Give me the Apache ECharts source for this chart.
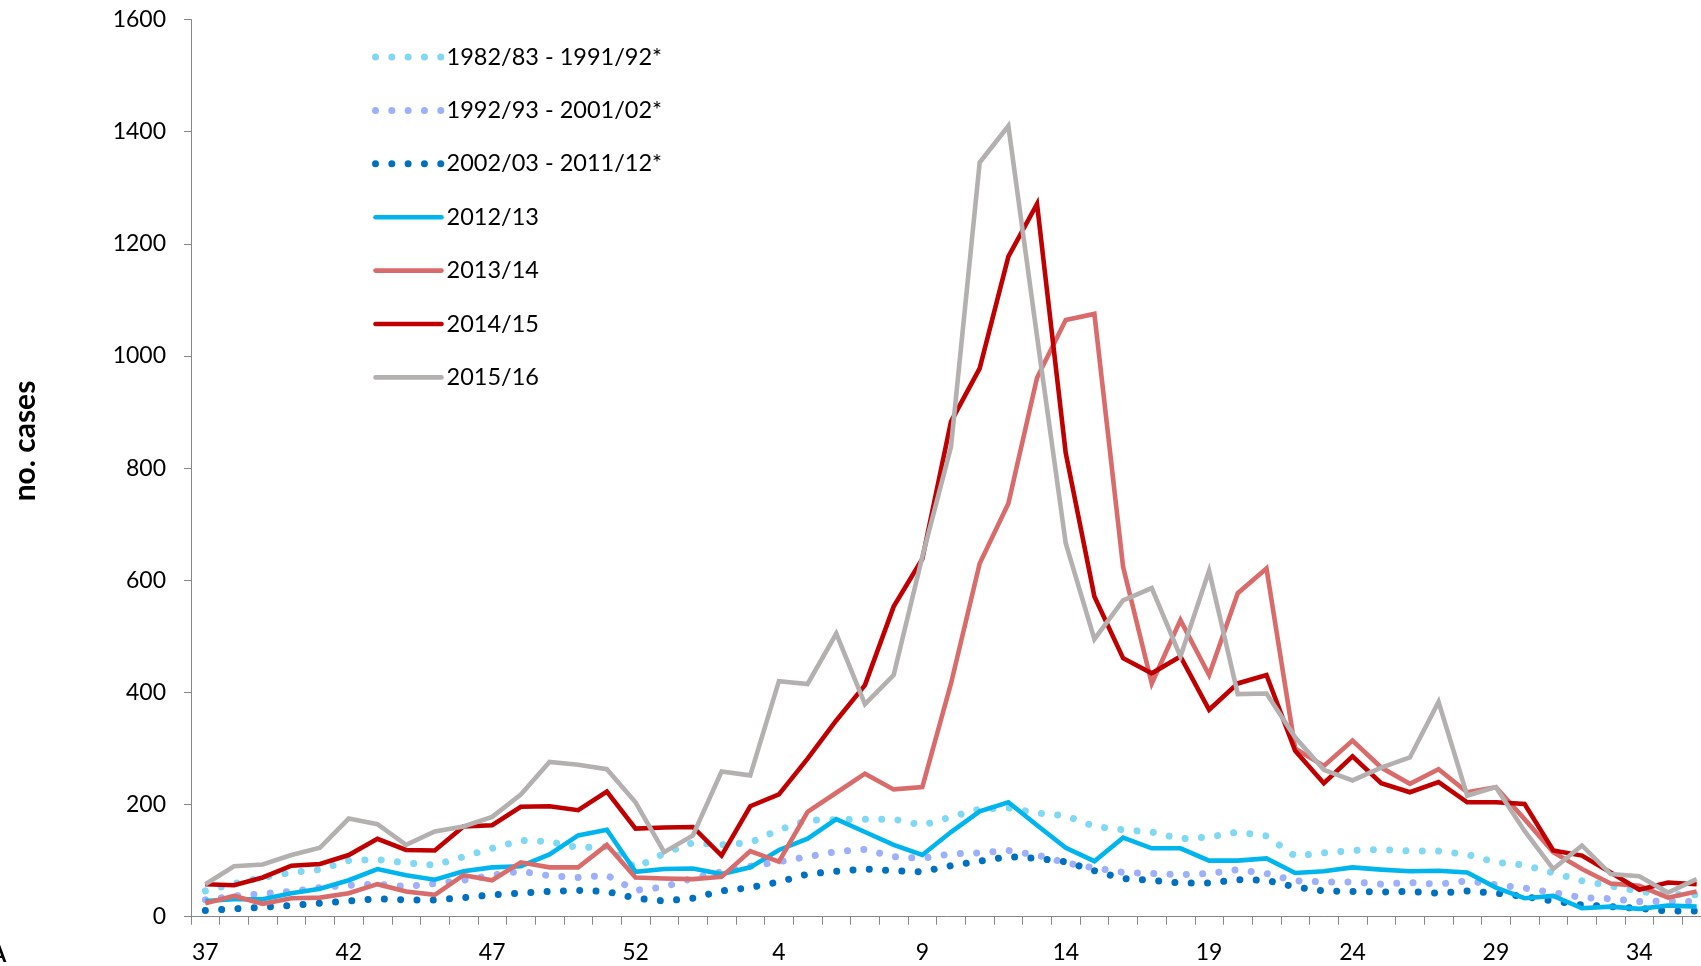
<!DOCTYPE html>
<html style="height: 100%">
<head>
<meta charset="utf-8">
<script src="https://cdn.jsdelivr.net/npm/echarts@6/dist/echarts.min.js"></script>
</head>
<body style="height: 100%; margin: 0; background: #fff">
<div id="container" style="width: 1701px; height: 966px"></div>
<script type="text/javascript">
// season weeks 37..53 then 1..36
var weeks = [37,38,39,40,41,42,43,44,45,46,47,48,49,50,51,52,53,
	1,2,3,4,5,6,7,8,9,10,11,12,13,14,15,16,17,18,19,20,21,22,23,24,25,26,27,28,29,30,31,32,33,34,35,36];

var avg8292 = [46,59,70,79,84,100,102,96,92,107,122,136,134,123,125,87,113,
	132,128,132,155,172,173,174,174,163,178,192,194,185,180,161,155,151,139,142,151,144,108,114,118,120,117,117,111,97,92,78,64,55,45,40,39];
var avg9302 = [30,37,41,45,52,56,58,54,59,65,74,81,73,70,74,47,53,
	69,80,90,98,107,116,120,107,104,112,114,118,110,96,87,79,77,75,77,84,77,64,62,62,58,61,58,64,57,51,43,34,32,27,28,27];
var avg0312 = [11,14,17,20,24,28,32,30,30,34,39,42,45,47,45,33,28,
	33,46,52,62,76,81,85,82,80,91,99,107,104,98,82,68,65,60,60,66,65,53,46,45,44,45,42,46,42,36,28,21,18,15,10,10];
var s1213 = [28,31,31,42,50,65,85,74,66,81,88,90,111,145,155,80,85,
	86,76,88,119,139,174,151,128,110,151,188,204,163,123,99,141,122,122,100,100,104,78,81,88,84,81,82,79,52,33,37,15,18,14,20,18];
var s1314 = [24,37,23,33,34,42,58,45,39,74,65,97,88,88,128,70,68,
	67,71,117,98,187,221,255,227,231,416,630,737,961,1064,1075,624,416,529,431,577,621,300,269,314,266,237,263,222,231,174,115,85,59,55,34,45];
var s1415 = [58,56,70,91,94,110,139,119,118,161,163,196,197,190,223,157,159,
	160,109,197,218,282,350,413,553,638,883,978,1177,1271,827,571,461,434,464,369,416,431,296,238,286,238,222,240,204,204,201,118,109,79,48,61,58];
var s1516 = [58,90,93,110,123,175,165,128,152,161,178,218,276,271,263,204,115,
	145,259,252,420,415,505,379,431,642,838,1345,1410,1035,666,495,564,586,464,617,397,398,320,262,243,266,284,383,216,231,153,85,127,76,72,43,67];

var seriesNames = ['1982/83 - 1991/92*', '1992/93 - 2001/02*', '2002/03 - 2011/12*',
	'2012/13', '2013/14', '2014/15', '2015/16'];
var seriesData = [avg8292, avg9302, avg0312, s1213, s1314, s1415, s1516];
var colors = ['#80d8f5', '#9db0fa', '#0070c0', '#00b5ee', '#da6b6b', '#c00000', '#b3b0af'];

var font = 'Lato, "Open Sans", sans-serif';
var dotDash = [0.01, 16.3];

var series = [];
var legendData = [];
for (var i = 0; i < seriesData.length; i++) {
	var dotted = i < 3;
	var ls = dotted
		? { color: colors[i], width: 7, type: dotDash, cap: 'round' }
		: { color: colors[i], width: 4.6, cap: 'butt', join: 'miter' };
	series.push({
		name: seriesNames[i],
		type: 'line',
		data: seriesData[i],
		symbol: 'none',
		smooth: false,
		silent: true,
		animation: false,
		lineStyle: ls,
		itemStyle: { color: colors[i] }
	});
	legendData.push({
		name: seriesNames[i],
		itemStyle: { opacity: 0 },
		lineStyle: dotted
			? { color: colors[i], width: 7, type: dotDash, cap: 'round' }
			: { color: colors[i], width: 4.6, type: 'solid', cap: 'round' }
	});
}

var chart = echarts.init(document.getElementById('container'), null, { renderer: 'canvas' });
chart.setOption({
	backgroundColor: '#fff',
	animation: false,
	grid: { left: 191, right: -10, top: 19.5, bottom: 49.3, outerBoundsMode: 'none', containLabel: false },
	legend: {
		orient: 'vertical',
		left: 372,
		top: 45,
		padding: 0,
		itemWidth: 66,
		itemHeight: 14,
		itemGap: 29.4,
		selectedMode: false,
		data: legendData,
		textStyle: { fontSize: 23.5, color: '#000', fontFamily: font },
		itemStyle: { opacity: 0 },
		lineStyle: { cap: 'round' }
	},
	xAxis: {
		type: 'category',
		data: weeks,
		boundaryGap: true,
		axisLine: { lineStyle: { color: '#868686', width: 1 } },
		axisTick: { show: true, interval: 0, length: 8, lineStyle: { color: '#868686' } },
		axisLabel: { interval: 4, fontSize: 23, color: '#000', margin: 24, fontFamily: font },
		splitLine: { show: false }
	},
	yAxis: {
		type: 'value',
		min: 0,
		max: 1600,
		interval: 200,
		axisLine: { show: true, lineStyle: { color: '#868686', width: 1 } },
		axisTick: { show: true, length: 7, lineStyle: { color: '#868686' } },
		axisLabel: {
			fontSize: 23, color: '#000', margin: 25, fontFamily: font,
			formatter: function (v) { return String(v); }
		},
		splitLine: { show: false }
	},
	graphic: [
		{
			type: 'text',
			x: 25, y: 441,
			rotation: Math.PI / 2,
			style: {
				text: 'no. cases',
				fontSize: 30, fontWeight: 'bold', fontFamily: font,
				fill: '#000', textAlign: 'center', textVerticalAlign: 'middle'
			}
		},
		{
			type: 'text',
			x: -9, y: 955,
			style: { text: 'A', fontSize: 22, fontWeight: 'bold', fontFamily: font, fill: '#000', textVerticalAlign: 'middle' }
		}
	],
	series: series
});
</script>
</body>
</html>
